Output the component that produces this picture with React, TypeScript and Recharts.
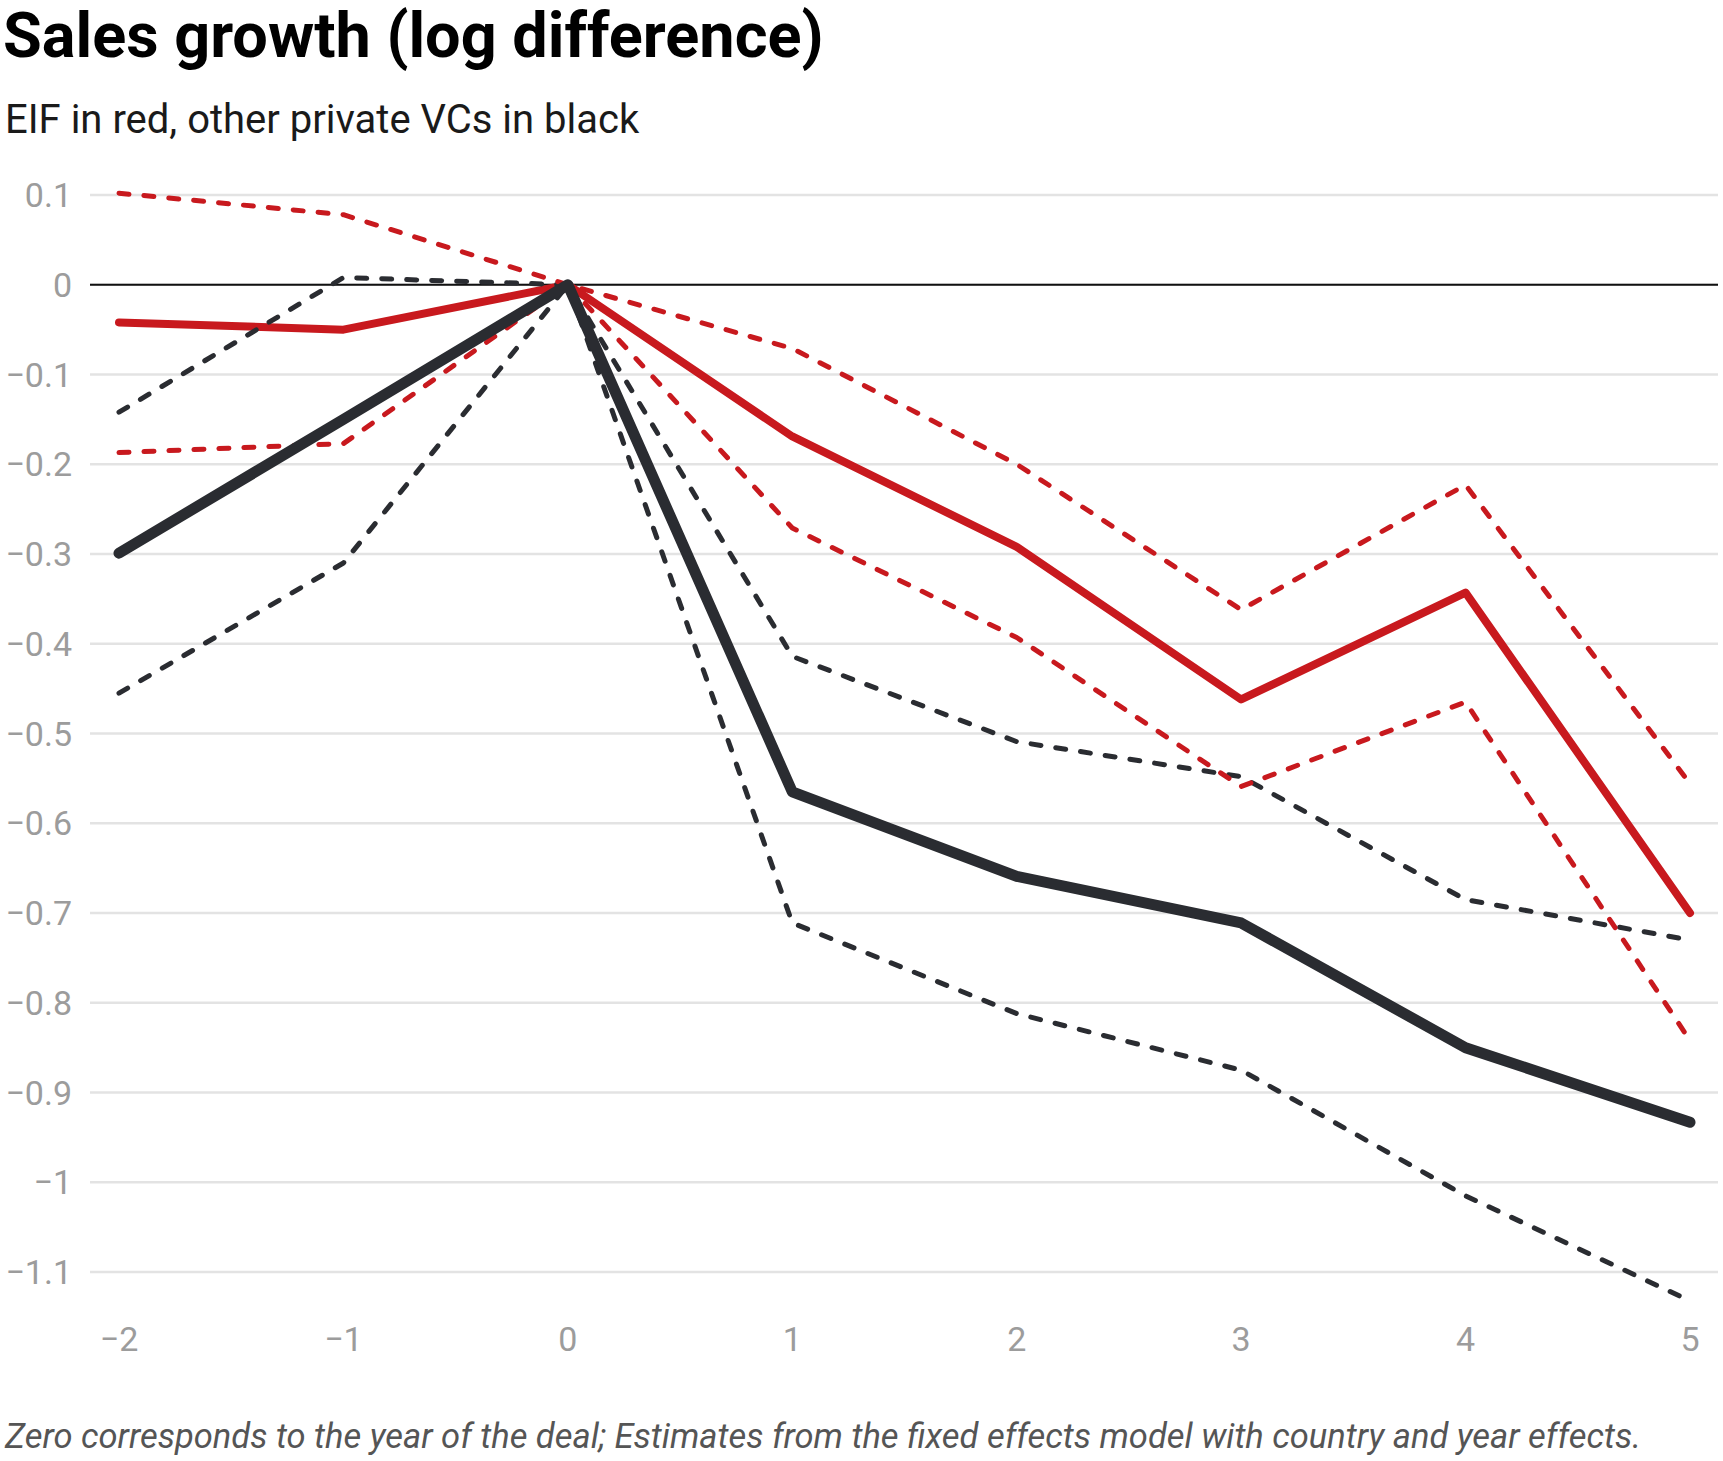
import React from "react";
import { LineChart, Line, XAxis, YAxis, CartesianGrid, ReferenceLine } from "recharts";

const years = [-2, -1, 0, 1, 2, 3, 4, 5];
const eifEstimate = [-0.042, -0.05, 0, -0.169, -0.292, -0.462, -0.343, -0.7];
const eifUpper = [0.102, 0.078, 0, -0.071, -0.2, -0.362, -0.223, -0.556];
const eifLower = [-0.187, -0.177, 0, -0.271, -0.393, -0.559, -0.465, -0.842];
const vcEstimate = [-0.299, -0.15, 0, -0.565, -0.659, -0.711, -0.85, -0.933];
const vcUpper = [-0.142, 0.008, 0, -0.414, -0.509, -0.548, -0.685, -0.73];
const vcLower = [-0.455, -0.31, 0, -0.711, -0.812, -0.875, -1.015, -1.132];

const yTicks = [0.1, 0, -0.1, -0.2, -0.3, -0.4, -0.5, -0.6, -0.7, -0.8, -0.9, -1, -1.1];
const xTicks = [-2, -1, 0, 1, 2, 3, 4, 5];

const title = "Sales growth (log difference)";
const subtitle = "EIF in red, other private VCs in black";
const footnote =
  "Zero corresponds to the year of the deal; Estimates from the fixed effects model with country and year effects.";

const data = years.map((x, i) => ({
  x,
  eifEstimate: eifEstimate[i],
  eifUpper: eifUpper[i],
  eifLower: eifLower[i],
  vcEstimate: vcEstimate[i],
  vcUpper: vcUpper[i],
  vcLower: vcLower[i],
}));

const RED = "#c8191e";
const DARK = "#2a2c31";
const fmt = (v: number) => String(v).replace("-", "\u2212");
const tickStyle = { fill: "#9c9c9c", fontSize: 34, fontFamily: "Roboto" };
const dash = "10 15";
const DASH_W = 5;

export default function App() {
  return (
    <div
      style={{
        position: "absolute",
        left: 0,
        top: 0,
        width: 1723,
        height: 1461,
        background: "#fff",
        fontFamily: "Roboto",
        overflow: "hidden",
      }}
    >
      <div
        style={{
          position: "absolute",
          left: 3,
          top: 4,
          fontSize: 63,
          lineHeight: 1,
          fontWeight: 700,
          color: "#000",
          whiteSpace: "nowrap",
        }}
      >
        {title}
      </div>
      <div
        style={{
          position: "absolute",
          left: 5,
          top: 100,
          fontSize: 40,
          lineHeight: 1,
          color: "#1a1a1a",
          whiteSpace: "nowrap",
        }}
      >
        {subtitle}
      </div>
      <div
        style={{
          position: "absolute",
          left: 5,
          top: 1419,
          fontSize: 34.5,
          lineHeight: 1,
          fontStyle: "italic",
          color: "#555",
          whiteSpace: "nowrap",
        }}
      >
        {footnote}
      </div>
      <div style={{ position: "absolute", left: 0, top: 0 }}>
        <LineChart
          width={1723}
          height={1461}
          data={data}
          margin={{ top: 190.5, right: 5, bottom: 84, left: 0 }}
        >
          <CartesianGrid vertical={false} syncWithTicks stroke="#e3e3e3" strokeWidth={2.5} />
          <XAxis
            dataKey="x"
            type="number"
            domain={[-2, 5]}
            ticks={xTicks}
            interval={0}
            padding={{ left: 29, right: 28 }}
            axisLine={false}
            tickLine={false}
            tickSize={0}
            tickMargin={10}
            height={60}
            tick={tickStyle}
            tickFormatter={fmt}
          />
          <YAxis
            type="number"
            domain={[-1.15, 0.105]}
            ticks={yTicks}
            interval={0}
            width={90}
            axisLine={false}
            tickLine={false}
            tickSize={0}
            tickMargin={18}
            tick={tickStyle}
            tickFormatter={fmt}
          />
          <ReferenceLine y={0} stroke="#111" strokeWidth={2} />
          <Line
            dataKey="eifEstimate"
            stroke={RED}
            strokeWidth={8}
            dot={false}
            activeDot={false}
            strokeLinecap="round"
            strokeLinejoin="round"
            isAnimationActive={false}
          />
          <Line
            dataKey="vcUpper"
            stroke={DARK}
            strokeWidth={DASH_W}
            strokeDasharray={dash}
            dot={false}
            activeDot={false}
            strokeLinecap="round"
            strokeLinejoin="round"
            isAnimationActive={false}
          />
          <Line
            dataKey="vcLower"
            stroke={DARK}
            strokeWidth={DASH_W}
            strokeDasharray={dash}
            dot={false}
            activeDot={false}
            strokeLinecap="round"
            strokeLinejoin="round"
            isAnimationActive={false}
          />
          <Line
            dataKey="eifUpper"
            stroke={RED}
            strokeWidth={DASH_W}
            strokeDasharray={dash}
            dot={false}
            activeDot={false}
            strokeLinecap="round"
            strokeLinejoin="round"
            isAnimationActive={false}
          />
          <Line
            dataKey="eifLower"
            stroke={RED}
            strokeWidth={DASH_W}
            strokeDasharray={dash}
            dot={false}
            activeDot={false}
            strokeLinecap="round"
            strokeLinejoin="round"
            isAnimationActive={false}
          />
          <Line
            dataKey="vcEstimate"
            stroke={DARK}
            strokeWidth={11}
            dot={false}
            activeDot={false}
            strokeLinecap="round"
            strokeLinejoin="round"
            isAnimationActive={false}
          />
        </LineChart>
      </div>
    </div>
  );
}
